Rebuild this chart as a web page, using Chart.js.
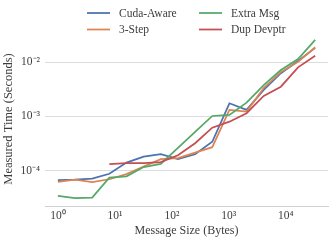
<!DOCTYPE html>
<html>
<head>
<meta charset="utf-8">
<script src="https://cdn.jsdelivr.net/npm/chart.js@4"></script>
<style>
  html, body { margin: 0; padding: 0; background: #fff; }
  #wrap { width: 332px; height: 241px; }
</style>
</head>
<body>
<div id="wrap"><canvas id="timing"></canvas></div>
<script>
// message sizes in bytes
const sizes = [1, 2, 4, 8, 16, 32, 64, 128, 256, 512, 1024, 2048, 4096, 8192, 16384, 32768]

// measured times (seconds)
const cudaAware = [6.65e-5, 6.8e-5, 7.1e-5, 8.7e-5, 1.4e-4, 1.8e-4, 2.0e-4, 1.62e-4, 2.0e-4, 3.4e-4, 1.75e-3, 1.32e-3, 3.1e-3, 6.3e-3, 1.06e-2, 1.85e-2]
const threeStep = [6.2e-5, 6.8e-5, 6.1e-5, 6.9e-5, 8.6e-5, 1.19e-4, 1.62e-4, 1.7e-4, 2.15e-4, 2.7e-4, 1.32e-3, 1.23e-3, 3.36e-3, 6.6e-3, 1.02e-2, 1.9e-2]
const extraMsg = [3.4e-5, 3.1e-5, 3.15e-5, 7.4e-5, 7.8e-5, 1.16e-4, 1.33e-4, 2.63e-4, 5.2e-4, 1.02e-3, 1.07e-3, 1.8e-3, 3.8e-3, 7.2e-3, 1.15e-2, 2.6e-2]
const dupDevptr = [null, null, null, 1.31e-4, 1.37e-4, 1.37e-4, 1.43e-4, 1.92e-4, 3.2e-4, 6.2e-4, 8.0e-4, 1.15e-3, 2.39e-3, 3.55e-3, 8.1e-3, 1.32e-2]

const xTicks = [1, 10, 100, 1000, 10000]
const yTicks = [1e-4, 1e-3, 1e-2]

const textColor = '#3c3c3c'
const serif = "'Liberation Serif', 'Times New Roman', serif"

function sup(n) {
    const map = {'-': '\u207B', '0': '\u2070', '1': '\u00B9', '2': '\u00B2', '3': '\u00B3', '4': '\u2074', '5': '\u2075', '6': '\u2076', '7': '\u2077', '8': '\u2078', '9': '\u2079'}
    return String(n).split('').map(c => map[c]).join('')
}
function powLabel(v) {
    return '10' + sup(Math.round(Math.log10(v)))
}
function pts(vals) {
    return sizes.map((s, i) => ({x: s, y: vals[i]}))
}

// two-column legend like the original, drawn above the plot
const columnLegend = {
    id: 'columnLegend',
    afterDraw(chart) {
        const ctx = chart.ctx
        const slots = [[87, 13], [87, 29.5], [199, 13], [199, 29.5]]
        ctx.save()
        ctx.font = '11.5px ' + serif
        ctx.textBaseline = 'middle'
        ctx.fillStyle = textColor
        chart.data.datasets.forEach((ds, k) => {
            const [x, y] = slots[k]
            ctx.strokeStyle = ds.borderColor
            ctx.lineWidth = 1.75
            ctx.beginPath()
            ctx.moveTo(x, y)
            ctx.lineTo(x + 23, y)
            ctx.stroke()
            ctx.fillText(ds.label, x + 32, y + 0.5)
        })
        ctx.restore()
    }
}

const ctx = document.getElementById('timing').getContext('2d')
const timingChart = new Chart(ctx, {
    type: 'line',
    data: {
        datasets: [
            {label: 'Cuda-Aware', data: pts(cudaAware), borderColor: '#4C72B0', order: 4},
            {label: '3-Step', data: pts(threeStep), borderColor: '#DD8452', order: 3},
            {label: 'Extra Msg', data: pts(extraMsg), borderColor: '#55A868', order: 2},
            {label: 'Dup Devptr', data: pts(dupDevptr), borderColor: '#C44E52', order: 1}
        ]
    },
    options: {
        responsive: true,
        maintainAspectRatio: false,
        animation: false,
        devicePixelRatio: 1,
        layout: {padding: {top: 32, right: 4, left: 0, bottom: 0}},
        elements: {
            line: {borderWidth: 1.75, tension: 0, fill: false},
            point: {radius: 0, hoverRadius: 0}
        },
        plugins: {
            legend: {display: false},
            tooltip: {enabled: false}
        },
        scales: {
            x: {
                type: 'logarithmic',
                min: 0.594,
                max: 55000,
                afterBuildTicks: scale => { scale.ticks = xTicks.map(v => ({value: v})) },
                afterFit: scale => { scale.height = 35 },
                grid: {display: false, drawTicks: false},
                border: {display: true, color: '#d0d0d0', width: 1},
                ticks: {
                    callback: v => powLabel(v),
                    color: textColor,
                    font: {family: serif, size: 11.5},
                    padding: 3,
                    maxRotation: 0,
                    autoSkip: false
                },
                title: {
                    display: true,
                    text: 'Message Size (Bytes)',
                    color: textColor,
                    font: {family: serif, size: 12},
                    padding: {top: 0, bottom: 3}
                }
            },
            y: {
                type: 'logarithmic',
                min: 2.21e-5,
                max: 0.0364,
                afterBuildTicks: scale => { scale.ticks = yTicks.map(v => ({value: v})) },
                afterFit: scale => { scale.width = 45 },
                grid: {color: '#dcdcdc', lineWidth: 1, drawTicks: false},
                border: {display: false},
                ticks: {
                    callback: v => powLabel(v),
                    color: textColor,
                    font: {family: serif, size: 11.5},
                    padding: 5
                },
                title: {
                    display: true,
                    text: 'Measured Time (Seconds)',
                    color: textColor,
                    font: {family: serif, size: 12.5},
                    padding: {top: 1, bottom: 0}
                }
            }
        }
    },
    plugins: [columnLegend]
})
</script>
</body>
</html>
